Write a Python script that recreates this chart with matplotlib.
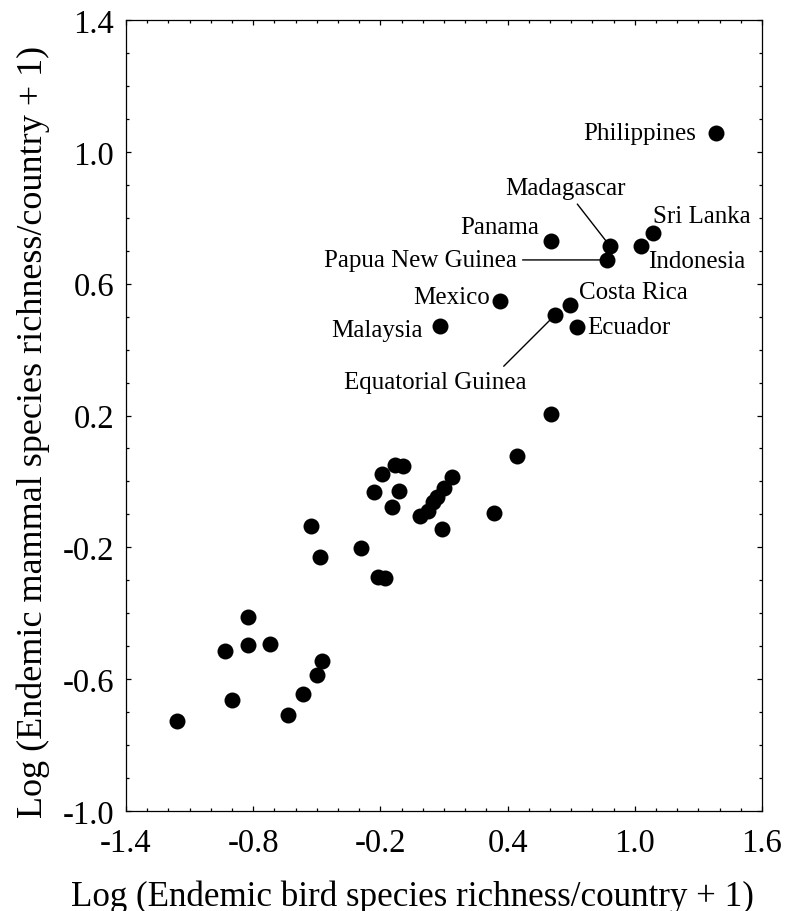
import numpy as np
import matplotlib
matplotlib.use("Agg")
import matplotlib.pyplot as plt
from matplotlib.ticker import MultipleLocator

plt.rcParams['font.family'] = ['Liberation Serif', 'DejaVu Serif']

# labelled countries
names = ['Philippines', 'Madagascar', 'Papua New Guinea', 'Panama', 'Sri Lanka',
         'Indonesia', 'Mexico', 'Malaysia', 'Costa Rica', 'Equatorial Guinea', 'Ecuador']
name_x = [1.383, 0.883, 0.869, 0.605, 1.086, 1.029, 0.364, 0.081, 0.694, 0.624, 0.727]
name_y = [1.057, 0.714, 0.672, 0.729, 0.754, 0.714, 0.547, 0.472, 0.535, 0.505, 0.469]

# unlabelled countries
bird = [0.605, 0.444, -0.131, -0.093, -0.192, -0.112, -0.230, -0.145, 0.138, 0.100,
        0.067, 0.048, 0.025, -0.013, 0.091, 0.336, -0.527, -0.291, -0.485, -0.211,
        -0.178, -0.825, -0.933, -0.825, -0.721, -0.476, -0.500, -0.565, -0.900,
        -0.636, -1.159]
mammal = [0.205, 0.077, 0.050, 0.047, 0.023, -0.029, -0.032, -0.078, 0.013, -0.020,
          -0.047, -0.062, -0.090, -0.105, -0.144, -0.096, -0.135, -0.202, -0.229,
          -0.290, -0.293, -0.411, -0.514, -0.496, -0.493, -0.545, -0.587, -0.645,
          -0.663, -0.709, -0.727]

# label placement: offset in pixels, alignment, leader line
label_style = {
    'Philippines':       ((-20, 0), 'right', 'center', None),
    'Madagascar':        ((-45, 58), 'center', 'center', (0.57, 0.0)),
    'Papua New Guinea':  ((-90, 0), 'right', 'center', (1.0, 0.5)),
    'Panama':            ((-12, 14), 'right', 'center', None),
    'Sri Lanka':         ((0, 17), 'left', 'center', None),
    'Indonesia':         ((7, -15), 'left', 'center', None),
    'Mexico':            ((-10, 4), 'right', 'center', None),
    'Malaysia':          ((-17, -4), 'right', 'center', None),
    'Costa Rica':        ((9, 13), 'left', 'center', None),
    'Equatorial Guinea': ((-120, -67), 'center', 'center', (0.85, 1.0)),
    'Ecuador':           ((10, 0), 'left', 'center', None),
}

fig = plt.figure(figsize=(7.85, 9.12), dpi=100)
ax = fig.add_axes([0.1605, 0.1096, 0.8102, 0.8674])

all_x = np.concatenate([name_x, bird])
all_y = np.concatenate([name_y, mammal])
ax.plot(all_x, all_y, 'o', color='black', markersize=11.5, markeredgewidth=0)

for n, x, y in zip(names, name_x, name_y):
    off, ha, va, rel = label_style[n]
    if rel is None:
        ax.annotate(n, (x, y), xytext=off, textcoords='offset pixels',
                    ha=ha, va=va, fontsize=18)
    else:
        ax.annotate(n, (x, y), xytext=off, textcoords='offset pixels',
                    ha=ha, va=va, fontsize=18,
                    arrowprops=dict(arrowstyle='-', color='black', lw=1.0,
                                    relpos=rel, shrinkA=2, shrinkB=4))

ax.set_xlim(-1.4, 1.6)
ax.set_ylim(-1.0, 1.4)
ax.xaxis.set_minor_locator(MultipleLocator(0.1))
ax.yaxis.set_minor_locator(MultipleLocator(0.1))
ax.set_xticks(np.arange(-1.4, 1.61, 0.6))
ax.set_xticklabels(['-1.4', '-0.8', '-0.2', '0.4', '1.0', '1.6'])
ax.set_yticks(np.arange(-1.0, 1.41, 0.4))
ax.set_yticklabels(['-1.0', '-0.6', '-0.2', '0.2', '0.6', '1.0', '1.4'])

ax.tick_params(which='both', direction='in', top=True, right=True, width=0.9)
ax.tick_params(which='major', length=3.5)
ax.tick_params(which='minor', length=2.5)
ax.tick_params(axis='x', labelsize=23.5, pad=12)
ax.tick_params(axis='y', labelsize=23.5, pad=8.5)
for s in ax.spines.values():
    s.set_linewidth(0.9)

ax.set_xlabel('Log (Endemic bird species richness/country + 1)', fontsize=25.2)
ax.set_ylabel('Log (Endemic mammal species richness/country + 1)', fontsize=26)
ax.xaxis.set_label_coords(0.45, -0.086)
ax.yaxis.set_label_coords(-0.12, 0.48)

fig.savefig('out.png', dpi=100)
